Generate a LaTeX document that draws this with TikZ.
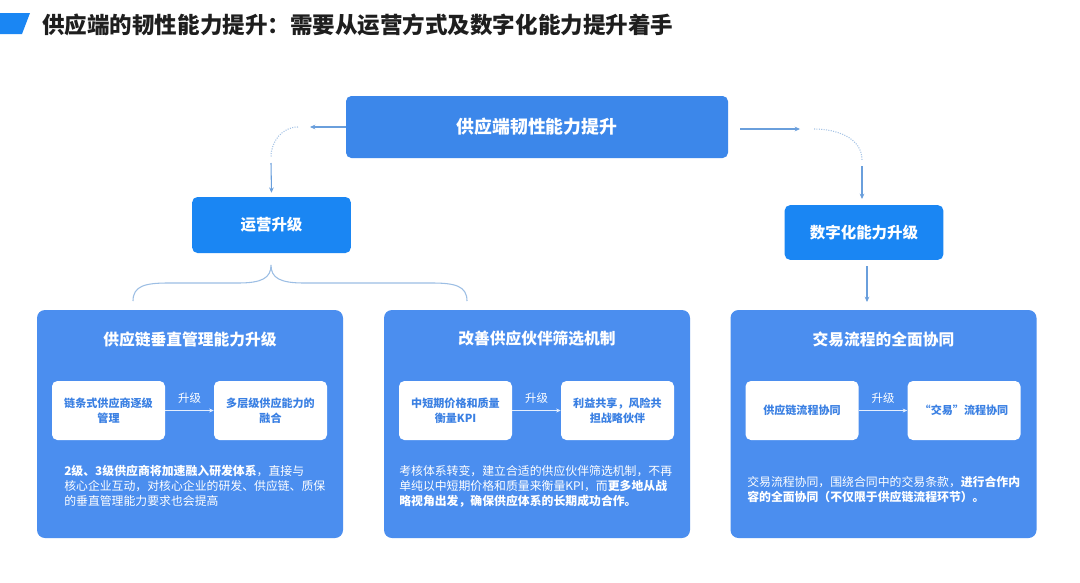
\documentclass[tikz,border=0pt]{standalone}
\usepackage{fontspec}
\setmainfont{Noto Sans CJK SC}
\usetikzlibrary{arrows.meta}
\definecolor{topblue}{HTML}{3C87EA}
\definecolor{stepblue}{HTML}{1A86F3}
\definecolor{panelblue}{HTML}{4B8EEF}
\definecolor{inkblue}{HTML}{3A80E3}
\definecolor{linkblue}{HTML}{6A9FDC}
\definecolor{softblue}{HTML}{A5C3E6}
\definecolor{titleink}{HTML}{1E1E1E}
\tikzset{
    headbox/.style={rectangle, rounded corners=4pt, fill=topblue, text=white,
      minimum width=286.5pt, minimum height=46.5pt, font=\fontsize{13.4}{16}\selectfont\bfseries},
    stepbox/.style={rectangle, rounded corners=4pt, fill=stepblue, text=white,
      minimum width=119pt, minimum height=42pt, font=\fontsize{11.6}{14}\selectfont\bfseries},
    panelbox/.style={rectangle, rounded corners=6pt, fill=panelblue,
      minimum width=229.5pt, minimum height=171pt},
    innerbox/.style={rectangle, rounded corners=4pt, fill=white, text=inkblue, align=center,
      minimum width=84.75pt, minimum height=44.25pt, font=\fontsize{8.3}{11}\selectfont\bfseries},
    paneltitle/.style={text=white, font=\fontsize{11.8}{14}\selectfont\bfseries},
    paneltext/.style={text=white, align=left, anchor=north west, inner sep=0pt,
      font=\fontsize{8.9}{11.25}\selectfont},
    linkarrow/.style={-{Stealth[length=4pt,width=3.5pt]}, linkblue, thick},
    dotarc/.style={softblue, densely dotted, thick},
    upgarrow/.style={-{Stealth[length=3.5pt,width=3pt]}, white!85!panelblue},
}

\begin{document}
\begin{tikzpicture}[x=0.75pt,y=-0.75pt]
  \useasboundingbox (0,0) rectangle (1080,582);
  \fill[white] (0,0) rectangle (1080,582);
  % TITLE
  \fill[stepblue] (0,13) -- (30,13) -- (22,34) -- (0,34) -- cycle;
  \node[anchor=west, inner sep=0pt, text=titleink, font=\fontsize{16.9}{20}\selectfont\bfseries]
    (title) at (42,25) {供应端的韧性能力提升：需要从运营方式及数字化能力提升着手};
  % Top: main goal
  \node[headbox] (top) at (537,127) {供应端韧性能力提升};
  \node[stepbox] (ops) at (271.5,225) {运营升级};
  \node[stepbox, minimum height=41pt] (dig) at (864,232.5) {数字化能力升级};
  % left branch
  \coordinate (L1) at (310,127);
  \coordinate (L2) at (298,127);
  \coordinate (L3) at (271,157);
  \coordinate (L4) at (271,163);
  \draw[linkarrow] (top.west) -- (L1);
  \draw[dotarc] (L2) to[out=180,in=90] (L3);
  \draw[linkarrow] (L4) -- ([yshift=3pt]ops.north);
  % right branch
  \coordinate (R1) at (740,129);
  \coordinate (R2) at (800,129);
  \coordinate (R3) at (814,129);
  \coordinate (R4) at (862,160);
  \coordinate (R5) at (862,166);
  \coordinate (R6) at (862,199);
  \draw[linkarrow] (R1) -- (R2);
  \draw[dotarc] (R3) to[out=0,in=90] (R4);
  \draw[linkarrow] (R5) -- (R6);
  % Panels: 3 upgrade areas
  \foreach \i/\cx/\ttl/\la/\lb in {
      1/190/{供应链垂直管理能力升级}/{链条式供应商逐级\\管理}/{多层级供应能力的\\融合},
      2/537/{改善供应伙伴筛选机制}/{中短期价格和质量\\衡量KPI}/{利益共享，风险共\\担战略伙伴},
      3/883.5/{交易流程的全面协同}/{供应链流程协同}/{“交易”流程协同}}{
    \node[panelbox] (P\i) at (\cx,424) {};
    \node[paneltitle] (P\i-t) at (\cx,339) {\ttl};
    \node[innerbox] (P\i-a) at (\cx-81.5,410.5) {\la};
    \node[innerbox] (P\i-b) at (\cx+80.5,410.5) {\lb};
    \draw[upgarrow] (P\i-a) -- node[above=2pt, text=white, font=\fontsize{8.6}{10}\selectfont] {升级} (P\i-b);
  }
  \coordinate (D1) at (867,266);
  \coordinate (D2) at (867,302);
  \draw[linkarrow] (D1) -- (D2);
  % brace under 运营升级
  \coordinate (B0) at (271,265);
  \draw[softblue!85!linkblue, thick] (133,301) .. controls (133,286) and (145,283) .. (168,283)
    -- (238,283) .. controls (262,283) and (271,278) .. (B0)
    .. controls (271,278) and (280,283) .. (304,283)
    -- (432,283) .. controls (455,283) and (467,286) .. (467,301);
  % TEXTS
  \node[paneltext] (P1-d) at (64,465)
    {\textbf{2级、3级供应商将加速融入研发体系}，直接与\\
     核心企业互动，对核心企业的研发、供应链、质保\\
     的垂直管理能力要求也会提高};
  \node[paneltext] (P2-d) at (399,465)
    {考核体系转变，建立合适的供应伙伴筛选机制，不再\\
     单纯以中短期价格和质量来衡量KPI，而\textbf{更多地从战}\\
     \textbf{略视角出发，确保供应体系的长期成功合作。}};
  \node[paneltext] (P3-d) at (747,476)
    {交易流程协同，围绕合同中的交易条款，\textbf{进行合作内}\\
     \textbf{容的全面协同（不仅限于供应链流程环节）。}};
\end{tikzpicture}
\end{document}
